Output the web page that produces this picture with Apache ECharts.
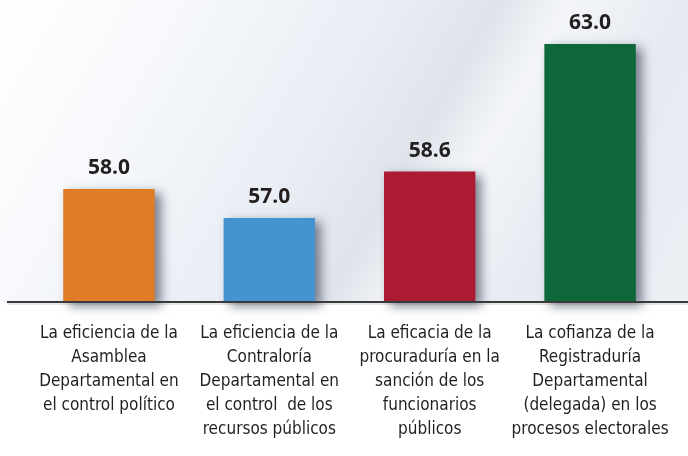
<!DOCTYPE html>
<html>
<head>
<meta charset="utf-8">
<script src="https://cdn.jsdelivr.net/npm/echarts@6/dist/echarts.min.js"></script>
<style>
  html, body { margin: 0; padding: 0; background: #ffffff; }
  .backdrop {
    position: absolute; left: 0; top: 0; width: 688px; height: 302px;
    background: linear-gradient(120deg, #ffffff 0%, #f6f8fb 22%, #e9edf4 45%, #dfe3ea 58%, #f3f5f8 66%, #e6eaf1 80%, #eceff4 100%);
  }
  #main { position: absolute; left: 0; top: 0; width: 688px; height: 456px; }
</style>
</head>
<body>
<div class="backdrop"></div>
<div id="main"></div>
<script>
  const categories = [
    'La eficiencia de la\nAsamblea\nDepartamental en\nel control político',
    'La eficiencia de la\nContraloría\nDepartamental en\nel control  de los\nrecursos públicos',
    'La eficacia de la\nprocuraduría en la\nsanción de los\nfuncionarios\npúblicos',
    'La cofianza de la\nRegistraduría\nDepartamental\n(delegada) en los\nprocesos electorales'
  ]
  const values = [58.0, 57.0, 58.6, 63.0]
  const barColors = ['#de7d25', '#4394cf', '#ab1c33', '#0d6738']

  const chart = echarts.init(document.getElementById('main'))

  const option = {
    backgroundColor: 'transparent',
    animation: false,
    grid: { left: 28.75, right: 17.75, top: 44, bottom: 154 },
    xAxis: {
      type: 'category',
      data: categories,
      axisLine: { show: false },
      axisTick: { show: false },
      axisLabel: {
        interval: 0,
        margin: 20,
        fontFamily: '"Liberation Sans Narrow", "DejaVu Sans Condensed", sans-serif',
        fontSize: 17,
        lineHeight: 24,
        color: '#231f20',
      },
    },
    yAxis: {
      type: 'value',
      min: 54.1,
      max: 63,
      show: false,
      splitLine: { show: false },
    },
    series: [
      {
        type: 'bar',
        barWidth: '57%',
        data: values.map((v, i) => ({
          value: v,
          itemStyle: {
            color: barColors[i],
            shadowColor: 'rgba(40, 50, 70, 0.6)',
            shadowBlur: 10,
            shadowOffsetX: 6,
            shadowOffsetY: 4,
          },
        })),
        label: {
          show: true,
          position: 'top',
          distance: 10,
          formatter: (p) => p.value.toFixed(1),
          fontFamily: '"Open Sans", sans-serif',
          fontWeight: 'bold',
          fontSize: 21,
          color: '#231f20',
        },
      },
    ],
    graphic: [
      {
        type: 'line',
        shape: { x1: 7, y1: 302, x2: 688, y2: 302 },
        style: { stroke: '#3a3a3c', lineWidth: 2 },
        z: 10,
      },
      {
        type: 'line',
        shape: { x1: 7, y1: 304, x2: 688, y2: 304 },
        style: { stroke: 'rgba(120,120,125,0.35)', lineWidth: 1 },
        z: 10,
      },
    ],
  }

  chart.setOption(option)
</script>
</body>
</html>
